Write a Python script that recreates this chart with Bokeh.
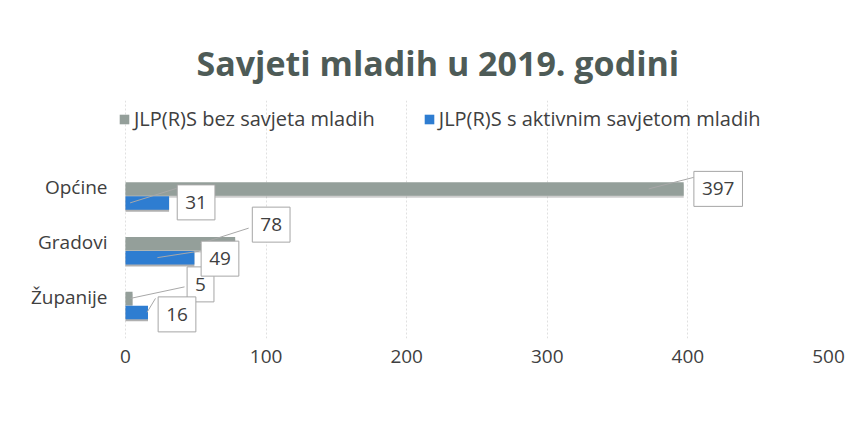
import numpy as np
from bokeh.plotting import figure
from bokeh.models import (Range1d, LinearAxis, FixedTicker, ColumnDataSource,
                          Label, Legend, LegendItem)
from bokeh.embed import file_html
from bokeh.resources import INLINE

# ---------------- data ----------------
categories = ["Općine", "Gradovi", "Županije"]
series_names = ["JLP(R)S bez savjeta mladih", "JLP(R)S s aktivnim savjetom mladih"]
bez_savjeta = [397, 78, 5]
s_savjetom = [31, 49, 16]
x_ticks = [0, 100, 200, 300, 400, 500]
title_text = "Savjeti mladih u 2019. godini"

# ---------------- layout / style ----------------
FONT = "Open Sans"
W, H = 845, 421
X0_PX, X500_PX = 125, 828          # pixel position of 0 and 500
FL, FT, FB = 117, 100, 338         # frame left / top / bottom
BAND_TOP, SP = 168, 54.75          # top of first category band, band height
XMAX = 500
px_x = (X500_PX - X0_PX) / XMAX
x_start = -(X0_PX - FL) / px_x
y_bottom = -0.5 + (FB - BAND_TOP) / SP
y_top = -0.5 - (BAND_TOP - FT) / SP
GRAY = "#949f9a"
BLUE = "#2e7dd1"
TXT = "#404040"

# label box placements (px, relative to bar end, y down positive)
gray_box = [(34.5, 0), (36, -19), (68, -14)]
blue_box = [(27, -0.5), (25.6, 1), (29, 2)]
gray_lead_start = [-35, -35, -2]
blue_lead_start = [-39, -37, -1]
gray_lead_end = [(-24.5, -11.5), (-22.5, 3.5), (-16, 2.5)]
blue_lead_end = [(-19.5, -14), (-20.5, -7.5), (-21.5, -16)]

idx = np.arange(len(categories))
bar_off = 7.0 / SP
bar_h = 13.5 / SP
gray_y = [float(i - bar_off) for i in idx]
blue_y = [float(i + bar_off) for i in idx]

p = figure(width=W, height=H, output_backend="svg", toolbar_location=None,
           x_range=Range1d(x_start, XMAX), y_range=Range1d(y_bottom, y_top),
           min_border_left=FL, min_border_right=W - X500_PX,
           min_border_top=FT, min_border_bottom=H - FB)
p.outline_line_color = None
p.background_fill_color = "white"
p.border_fill_color = "white"

# axes
p.yaxis.visible = False
p.ygrid.visible = False
p.xaxis.ticker = FixedTicker(ticks=x_ticks)
p.xaxis.axis_line_color = None
p.xaxis.major_tick_line_color = None
p.xaxis.minor_tick_line_color = None
p.xaxis.major_label_text_font = FONT
p.xaxis.major_label_text_font_size = "19px"
p.xaxis.major_label_text_color = TXT
p.xaxis.major_label_standoff = 5
p.xgrid.ticker = FixedTicker(ticks=x_ticks)
p.xgrid.grid_line_color = "#e0e0e0"
p.xgrid.grid_line_dash = "2 2"

shift = 8.5 / SP
p.extra_y_ranges = {"cat": Range1d(y_bottom + shift, y_top + shift)}
cat_axis = LinearAxis(y_range_name="cat", ticker=FixedTicker(ticks=[int(i) for i in idx]),
                      major_label_overrides={int(i): c for i, c in zip(idx, categories)})
cat_axis.axis_line_color = None
cat_axis.major_tick_line_color = None
cat_axis.minor_tick_line_color = None
cat_axis.major_label_text_font = FONT
cat_axis.major_label_text_font_size = "19px"
cat_axis.major_label_text_color = TXT
cat_axis.major_label_standoff = 4
p.add_layout(cat_axis, "left")

# bars (with a light drop shadow like the scanned original)
src_g = ColumnDataSource(dict(y=gray_y, v=bez_savjeta))
src_b = ColumnDataSource(dict(y=blue_y, v=s_savjetom))
sh = 2.0 / SP
p.hbar(y=[y + sh for y in gray_y], left=0, right=bez_savjeta, height=bar_h,
       fill_color="#707070", fill_alpha=0.35, line_color=None)
p.hbar(y=[y + sh for y in blue_y], left=0, right=s_savjetom, height=bar_h,
       fill_color="#505050", fill_alpha=0.45, line_color=None)
r_g = p.hbar(y="y", left=0, right="v", height=bar_h, source=src_g,
             fill_color=GRAY, line_color=None)
r_b = p.hbar(y="y", left=0, right="v", height=bar_h, source=src_b,
             fill_color=BLUE, line_color=None)

# leader lines + data labels
def add_labels(vals, ys, box, lead_s, lead_e):
    x0, y0, x1, y1 = [], [], [], []
    for v, y, (bx, by), ls, (ex, ey) in zip(vals, ys, box, lead_s, lead_e):
        cx = v + bx / px_x
        cy = y + by / SP
        x0.append(v + ls / px_x); y0.append(y)
        x1.append(cx + ex / px_x); y1.append(cy + ey / SP)
    p.segment(x0=x0, y0=y0, x1=x1, y1=y1, line_color="#a8a8a8", line_width=1)
    for v, y, (bx, by) in zip(vals, ys, box):
        p.add_layout(Label(x=float(v + bx / px_x), y=float(y + by / SP), text=str(v),
                           text_align="center", text_baseline="middle",
                           text_font=FONT, text_font_size="19px", text_color=TXT,
                           background_fill_color="white", border_line_color="#a6a6a6",
                           border_line_width=1, padding=(8, 11)))

add_labels(bez_savjeta, gray_y, gray_box, gray_lead_start, gray_lead_end)
add_labels(s_savjetom, blue_y, blue_box, blue_lead_start, blue_lead_end)

# title
p.title.text = title_text
p.title.text_font = FONT
p.title.text_font_style = "bold"
p.title.text_font_size = "34px"
p.title.text_color = "#4e5b57"
p.title.align = "left"
p.title.offset = 196 - FL
p.title.standoff = 30

# legend (inside the tall plot frame, above the bars)
legend = Legend(items=[LegendItem(label=series_names[0], renderers=[r_g]),
                       LegendItem(label=series_names[1], renderers=[r_b])],
                orientation="horizontal", location=(1, FB - 132),
                label_text_font=FONT, label_text_font_size="20px", label_text_color=TXT,
                glyph_width=12, glyph_height=12, label_standoff=4, spacing=48,
                label_height=24, padding=0, margin=0, border_line_color=None,
                background_fill_alpha=0)
p.add_layout(legend)

open("out.html", "w").write(file_html(p, INLINE))
